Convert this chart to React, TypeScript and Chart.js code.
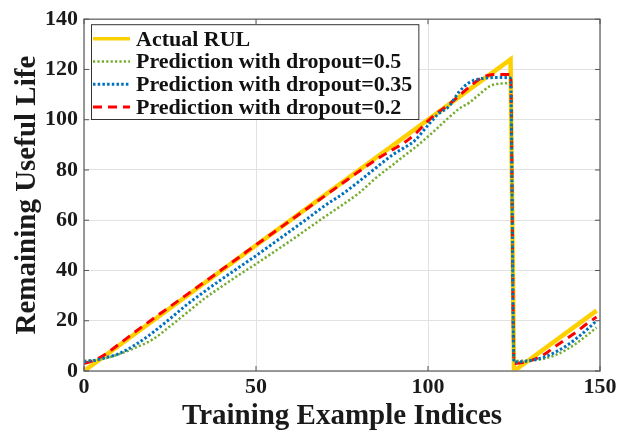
import React, { useEffect, useRef } from 'react';
import { Chart, registerables } from 'chart.js';

Chart.register(...registerables);

// ---- data ----
const xGrid = [0, 3, 6, 10, 15, 20, 25, 30, 35, 40, 45, 50, 55, 60, 65, 70, 75, 80, 85, 90, 93, 96, 100, 103, 106, 109, 112, 115, 118, 121, 124, 125, 128, 131, 134, 137, 140, 143, 146, 149];

const actualX = [0, 124, 125, 149];
const actualY = [0, 124, 0, 24];

const dropout05 = [4, 4.3, 5, 6.6, 9.3, 12.6, 17.8, 23.3, 28.8, 33.6, 38.2, 42.6, 47.2, 51.8, 56.6, 61.4, 66, 70.9, 77, 82.3, 85.6, 88.7, 93.3, 97, 100.8, 104.3, 106.8, 110.2, 113.4, 114.4, 114.5, 4, 4.1, 4.3, 5, 6.3, 8.3, 10.9, 14, 17.3];

const dropout035 = [3.8, 4.2, 5.2, 6.8, 10.5, 15.3, 20.8, 26.5, 31.6, 36.5, 41.2, 45.9, 50.8, 55.7, 60.7, 65.8, 70.3, 75.5, 81, 86.3, 88.8, 91.5, 97.8, 102.3, 105.2, 111, 114.8, 116.2, 116.7, 116.8, 116.6, 3.6, 3.8, 4.5, 5.6, 7.5, 9.8, 12.8, 16.2, 20];

const dropout02 = [3, 4.3, 6.5, 10.5, 15.7, 20.7, 25.6, 30.5, 35.4, 40.3, 45.2, 50.2, 55, 59.9, 64.8, 69.7, 74.6, 79.5, 84.2, 88.3, 90.8, 94, 99.5, 103, 106, 109.5, 113, 116.2, 117.8, 118, 118, 3, 3.5, 4.7, 6.8, 9.8, 12.6, 15.4, 18.6, 21.5];

const seriesLabels = ['Actual RUL', 'Prediction with dropout=0.5', 'Prediction with dropout=0.35', 'Prediction with dropout=0.2'];

const xTitle = 'Training Example Indices';
const yTitle = 'Remaining Useful Life';
const xMin = 0, xMax = 150, xStep = 50;
const yMin = 0, yMax = 140, yStep = 20;

const FONT = '"Liberation Serif", "Times New Roman", serif';

const framePlugin = {
  id: 'frameBox',
  afterDraw(chart: any) {
    const { ctx, chartArea: a, scales } = chart;
    ctx.save();
    ctx.strokeStyle = '#7a7a7a';
    ctx.lineWidth = 1.5;
    ctx.strokeRect(a.left, a.top, a.right - a.left, a.bottom - a.top);
    // inward tick marks
    ctx.strokeStyle = '#555';
    ctx.lineWidth = 1;
    const tl = 5;
    scales.x.ticks.forEach((t: any) => {
      const px = scales.x.getPixelForValue(t.value);
      ctx.beginPath();
      ctx.moveTo(px, a.bottom); ctx.lineTo(px, a.bottom - tl);
      ctx.moveTo(px, a.top); ctx.lineTo(px, a.top + tl);
      ctx.stroke();
    });
    scales.y.ticks.forEach((t: any) => {
      const py = scales.y.getPixelForValue(t.value);
      ctx.beginPath();
      ctx.moveTo(a.left, py); ctx.lineTo(a.left + tl, py);
      ctx.moveTo(a.right, py); ctx.lineTo(a.right - tl, py);
      ctx.stroke();
    });
    ctx.restore();
  },
};

const legendPlugin = {
  id: 'boxLegend',
  afterDraw(chart: any) {
    const { ctx, chartArea: a } = chart;
    const ds = chart.data.datasets;
    ctx.save();
    ctx.font = `bold 22px ${FONT}`;
    const rowH = 22.7;
    const lineStart = 2, lineLen = 37, textOff = 45;
    const textW = Math.max(...ds.map((d: any) => ctx.measureText(d.label).width));
    const x0 = a.left + 7;
    const y0 = a.top + 5;
    const w = textOff + textW + 6;
    const h = rowH * ds.length + 4;
    ctx.fillStyle = '#ffffff';
    ctx.fillRect(x0, y0, w, h);
    ctx.strokeStyle = '#333';
    ctx.lineWidth = 1;
    ctx.strokeRect(x0 + 0.5, y0 + 0.5, w, h);
    ds.forEach((d: any, i: number) => {
      const cy = y0 + 3.3 + rowH * (i + 0.5);
      ctx.save();
      ctx.strokeStyle = d.borderColor;
      ctx.lineWidth = Math.min(d.borderWidth, 3.5);
      ctx.setLineDash(d.borderDash || []);
      ctx.beginPath();
      ctx.moveTo(x0 + lineStart, cy);
      ctx.lineTo(x0 + lineStart + lineLen, cy);
      ctx.stroke();
      ctx.restore();
      ctx.fillStyle = '#111';
      ctx.textBaseline = 'middle';
      ctx.textAlign = 'left';
      ctx.fillText(d.label, x0 + textOff, cy + 1);
    });
    ctx.restore();
  },
};

export default function App() {
  const ref = useRef<HTMLCanvasElement | null>(null);

  useEffect(() => {
    document.body.style.margin = '0';
    const canvas = ref.current;
    if (!canvas) return;
    const pts = (ys: number[]) => xGrid.map((x, i) => ({ x, y: ys[i] }));
    const tickFont = { family: FONT, weight: 'bold' as const, size: 22 };
    const titleFont = { family: FONT, weight: 'bold' as const, size: 29, lineHeight: 1.2 };

    const chart = new Chart(canvas, {
      type: 'line',
      data: {
        datasets: [
          {
            label: seriesLabels[0],
            data: actualX.map((x, i) => ({ x, y: actualY[i] })),
            borderColor: '#FFD000',
            borderWidth: 4.5,
            pointRadius: 0,
            tension: 0,
            order: 4,
          },
          {
            label: seriesLabels[1],
            data: pts(dropout05),
            borderColor: '#77AC30',
            borderWidth: 2.5,
            borderDash: [2.2, 2.2],
            pointRadius: 0,
            cubicInterpolationMode: 'monotone',
            order: 2,
          },
          {
            label: seriesLabels[2],
            data: pts(dropout035),
            borderColor: '#0072BD',
            borderWidth: 3,
            borderDash: [2.5, 2.2],
            pointRadius: 0,
            cubicInterpolationMode: 'monotone',
            order: 1,
          },
          {
            label: seriesLabels[3],
            data: pts(dropout02),
            borderColor: '#FF0000',
            borderWidth: 3,
            borderDash: [9, 6],
            pointRadius: 0,
            cubicInterpolationMode: 'monotone',
            order: 3,
          },
        ],
      },
      options: {
        responsive: false,
        animation: false,
        events: [],
        layout: { padding: { top: 12, right: 21, left: 0, bottom: 0 } },
        plugins: {
          legend: { display: false },
          tooltip: { enabled: false },
        },
        scales: {
          x: {
            type: 'linear',
            min: xMin,
            max: xMax,
            ticks: { stepSize: xStep, color: '#1a1a1a', font: tickFont, padding: 3, maxRotation: 0 },
            grid: { color: '#e2e2e2', drawTicks: false },
            border: { display: false },
            title: { display: true, text: xTitle, color: '#1a1a1a', font: titleFont, padding: { top: 0, bottom: 2 } },
            afterFit: (s: any) => { s.height = 65; },
          },
          y: {
            type: 'linear',
            min: yMin,
            max: yMax,
            ticks: { stepSize: yStep, color: '#1a1a1a', font: tickFont, padding: 6 },
            grid: { color: '#e2e2e2', drawTicks: false },
            border: { display: false },
            title: { display: true, text: yTitle, color: '#1a1a1a', font: titleFont, padding: { top: 10, bottom: 0 } },
            afterFit: (s: any) => { s.width = 84; },
          },
        },
      },
      plugins: [framePlugin, legendPlugin],
    });
    return () => chart.destroy();
  }, []);

  return <canvas ref={ref} width={621} height={436} style={{ display: 'block' }} />;
}
